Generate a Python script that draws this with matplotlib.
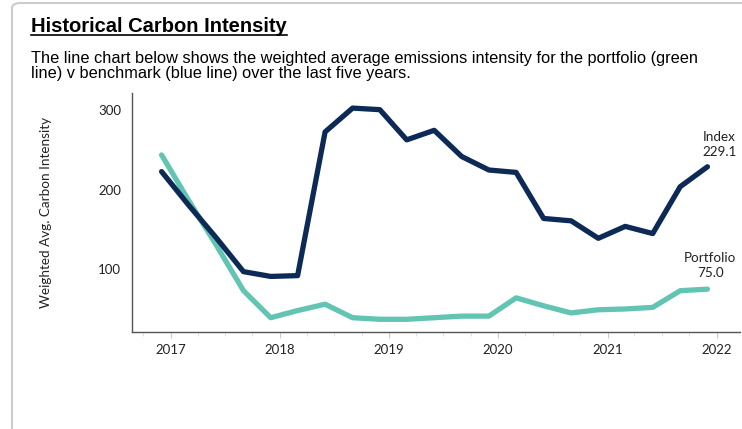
"""
Historical Carbon Intensity - portfolio vs index
"""

import matplotlib.pyplot as plt
import matplotlib.dates as mdates
from matplotlib.patches import FancyBboxPatch
import pandas as pd

# one point per quarter (plotted at the start of the quarter's last month)
quarters = [
    "2016-12-01", "2017-03-01", "2017-06-01", "2017-09-01",
    "2017-12-01", "2018-03-01", "2018-06-01", "2018-09-01",
    "2018-12-01", "2019-03-01", "2019-06-01", "2019-09-01",
    "2019-12-01", "2020-03-01", "2020-06-01", "2020-09-01",
    "2020-12-01", "2021-03-01", "2021-06-01", "2021-09-01",
    "2021-12-01",
]
index_values = [223, 181, 140, 97, 91, 92, 273, 303, 301, 263, 275, 242,
                225, 222, 164, 161, 139, 154, 145, 204, 229.1]
portfolio_values = [244, 187, 131, 73, 39, 48, 56, 39, 37, 37, 39, 41,
                    41, 64, 54, 45, 49, 50, 52, 73, 75.0]

dates = pd.to_datetime(quarters)

NAVY = "#0c2a55"
TEAL = "#62c4b2"

fig = plt.figure(figsize=(7.42, 4.29), dpi=100)

# card border
border = FancyBboxPatch((12 / 742, -0.2), 1.2, 1.2 - 3 / 429,
                        boxstyle="round,pad=0,rounding_size=0.012",
                        transform=fig.transFigure, fill=False,
                        edgecolor="#cccccc", linewidth=1.5)
fig.patches.append(border)

fig.text(31 / 742, 1 - 26 / 429, "Historical Carbon Intensity",
         fontsize=14.5, fontweight="bold", family="Liberation Sans",
         va="center", ha="left")
fig.add_artist(plt.Line2D([31 / 742, 287 / 742], [1 - 35 / 429] * 2,
                          color="black", linewidth=1.2,
                          transform=fig.transFigure))
fig.text(31 / 742, 1 - 66 / 429,
         "The line chart below shows the weighted average emissions intensity for the portfolio (green\n"
         "line) v benchmark (blue line) over the last five years.",
         fontsize=11.8, family="Liberation Sans", va="center", ha="left",
         linespacing=1.07)

ax = fig.add_axes([132 / 742, 1 - 332 / 429, 608 / 742, 239 / 429])
ax.plot(dates, portfolio_values, color=TEAL, linewidth=3.8,
        solid_capstyle="round", solid_joinstyle="round")
ax.plot(dates, index_values, color=NAVY, linewidth=3.8,
        solid_capstyle="round", solid_joinstyle="round")

ax.set_ylim(21, 322)
ax.set_xlim(pd.Timestamp("2016-08-24"), pd.Timestamp("2022-03-20"))
ax.set_yticks([100, 200, 300])

ax.xaxis.set_major_locator(mdates.YearLocator())
ax.xaxis.set_major_formatter(mdates.DateFormatter("%Y"))
ax.xaxis.set_minor_locator(mdates.MonthLocator(bymonth=[4, 7, 10]))

for spine in ["top", "right"]:
    ax.spines[spine].set_visible(False)
for spine in ["left", "bottom"]:
    ax.spines[spine].set_color("#555555")
    ax.spines[spine].set_linewidth(1.0)

ax.tick_params(axis="y", length=0, pad=8, labelsize=9.5, labelcolor="#222222")
ax.tick_params(axis="x", which="major", length=4, color="#cccccc", pad=5,
               labelsize=9.5, labelcolor="#222222")
ax.tick_params(axis="x", which="minor", length=3, color="#dddddd")
for lbl in ax.get_xticklabels() + ax.get_yticklabels():
    lbl.set_family("Lato")

ax.set_ylabel("Weighted Avg. Carbon Intensity", fontsize=9.7, family="Lato",
              color="#222222")
ax.yaxis.set_label_coords(-80 / 608, 0.5)

# end labels, right-aligned block with centred lines
last = dates[-1]
ax.annotate(f"Index\n{index_values[-1]:.1f}", xy=(last, index_values[-1]),
            xytext=(21, 6), textcoords="offset points", ha="right",
            va="bottom", multialignment="center", fontsize=9.7,
            family="Lato", color="#222222", linespacing=1.3)
ax.annotate(f"Portfolio\n{portfolio_values[-1]:.1f}",
            xy=(last, portfolio_values[-1]),
            xytext=(21, 7), textcoords="offset points", ha="right",
            va="bottom", multialignment="center", fontsize=9.7,
            family="Lato", color="#222222", linespacing=1.3)

fig.savefig("out.png", dpi=100)
plt.close(fig)
